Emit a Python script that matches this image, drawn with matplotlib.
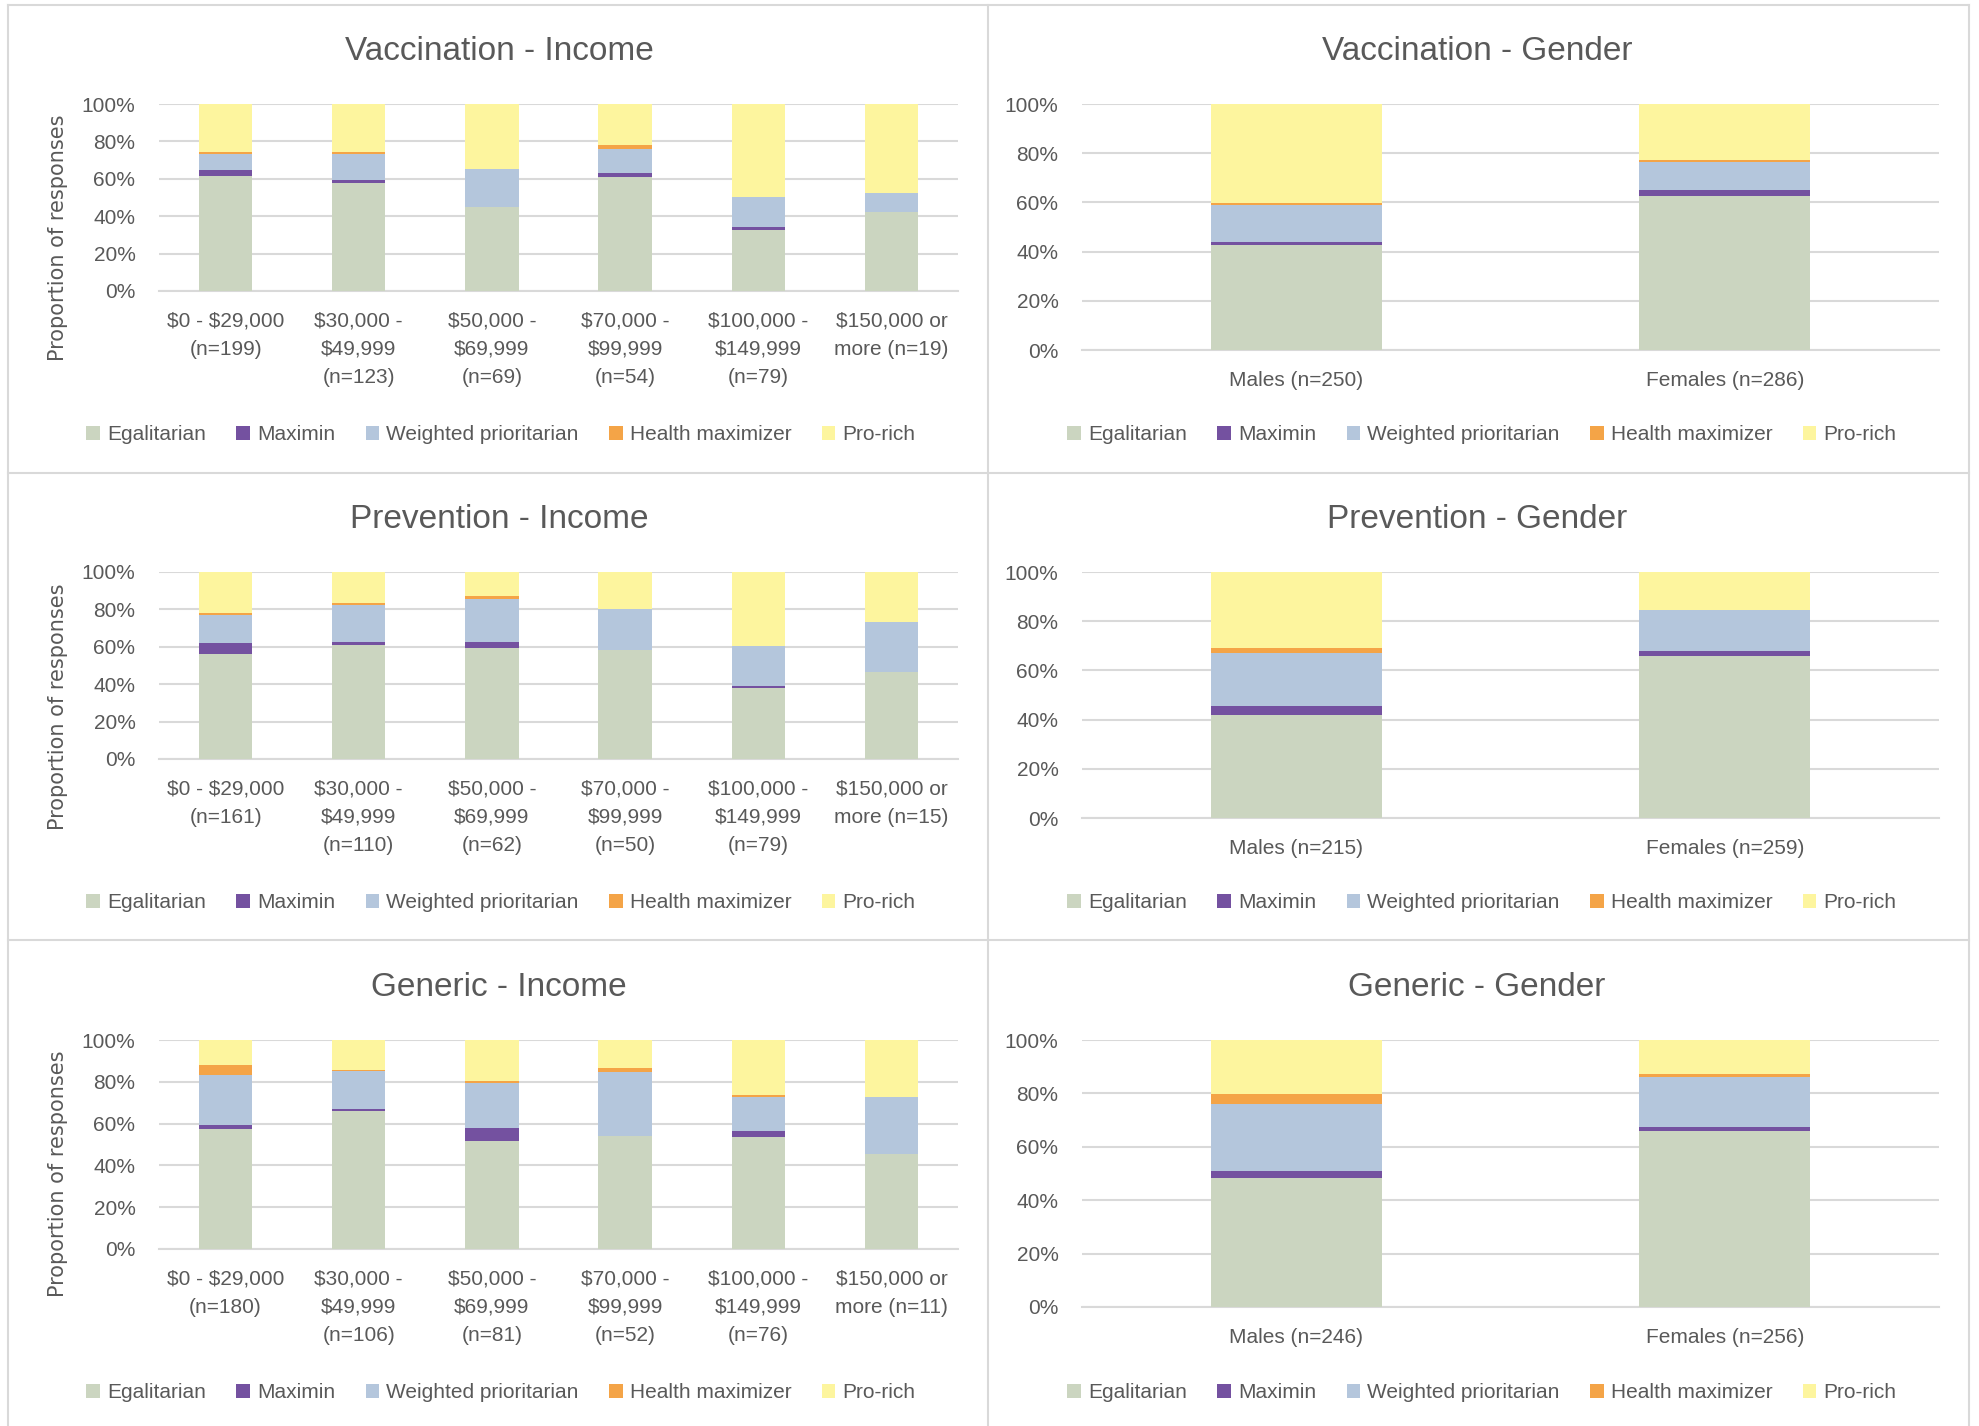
"""Stacked-bar grid: preferred allocation principle by income and gender."""
import matplotlib
matplotlib.use("Agg")
import matplotlib.pyplot as plt
import matplotlib.ticker as mtick
from matplotlib.lines import Line2D
from matplotlib.patches import Patch
import numpy as np

W, H = 1979, 1426

SERIES = ["Egalitarian", "Maximin", "Weighted prioritarian", "Health maximizer", "Pro-rich"]
COLORS = ["#CBD5C0", "#7451A0", "#B4C6DC", "#F4A447", "#FDF59E"]

INCOME_BASE = [r"\$0 - \$29,000", "\\$30,000 -\n\\$49,999", "\\$50,000 -\n\\$69,999",
               "\\$70,000 -\n\\$99,999", "\\$100,000 -\n\\$149,999", "\\$150,000 or\nmore"]

# sample sizes per panel
VAC_INCOME_N = [199, 123, 69, 54, 79, 19]
PREV_INCOME_N = [161, 110, 62, 50, 79, 15]
GEN_INCOME_N = [180, 106, 81, 52, 76, 11]
VAC_GENDER_N = [250, 286]
PREV_GENDER_N = [215, 259]
GEN_GENDER_N = [246, 256]

# percentages, rows = SERIES order
VAC_INCOME = [
    [61.5, 57.6, 45.1, 61.1, 32.8, 42.1],
    [3.0, 1.6, 0.0, 1.8, 1.2, 0.0],
    [9.0, 14.1, 20.0, 13.2, 16.4, 10.5],
    [0.9, 0.9, 0.0, 1.8, 0.0, 0.0],
    [25.6, 25.8, 34.9, 22.1, 49.6, 47.4],
]
VAC_GENDER = [
    [42.7, 62.4],
    [1.2, 2.6],
    [15.1, 11.6],
    [0.6, 0.7],
    [40.4, 22.7],
]
PREV_INCOME = [
    [56.2, 60.9, 59.6, 58.4, 38.1, 46.7],
    [5.9, 1.8, 3.0, 0.0, 1.2, 0.0],
    [15.1, 19.4, 23.0, 21.6, 21.2, 26.6],
    [1.1, 1.4, 1.8, 0.0, 0.0, 0.0],
    [21.7, 16.5, 12.6, 20.0, 39.5, 26.7],
]
PREV_GENDER = [
    [41.9, 65.9],
    [3.7, 1.9],
    [21.3, 16.7],
    [2.4, 0.0],
    [30.7, 15.5],
]
GEN_INCOME = [
    [57.6, 66.1, 51.9, 54.0, 53.8, 45.5],
    [1.6, 0.8, 5.9, 0.0, 2.6, 0.0],
    [23.9, 18.1, 21.5, 30.6, 16.1, 27.2],
    [4.8, 0.8, 1.0, 1.9, 1.1, 0.0],
    [12.1, 14.2, 19.7, 13.5, 26.4, 27.3],
]
GEN_GENDER = [
    [48.4, 66.1],
    [2.6, 1.4],
    [25.2, 18.5],
    [3.5, 1.2],
    [20.3, 12.8],
]

TEXT = "#595959"
GRID = "#D9D9D9"
FONT = "Liberation Sans"

plt.rcParams.update({
    "font.family": [FONT, "DejaVu Sans"],
    "text.color": TEXT,
    "xtick.color": TEXT,
    "ytick.color": TEXT,
})


def rect(x0, y0, x1, y1):
    """pixel box (top-left origin) -> figure fraction rect"""
    return [x0 / W, 1 - y1 / H, (x1 - x0) / W, (y1 - y0) / H]


def income_labels(ns):
    out = []
    for lab, n in zip(INCOME_BASE, ns):
        if lab.endswith("more"):
            out.append(f"{lab} (n={n})")
        else:
            out.append(f"{lab}\n(n={n})")
    return out


def gender_labels(ns):
    return [f"Males (n={ns[0]})", f"Females (n={ns[1]})"]


def panel(fig, box, title, title_xy, cats, data, legend_xy, ylabel_xy=None):
    ax = fig.add_axes(rect(*box))
    x = np.arange(len(cats))
    bottom = np.zeros(len(cats))
    for vals, col, name in zip(data, COLORS, SERIES):
        v = np.array(vals) / 100.0
        ax.bar(x, v, 0.40, bottom=bottom, color=col, label=name, zorder=3)
        bottom += v
    ax.set_xlim(-0.5, len(cats) - 0.5)
    ax.set_ylim(0, 1.0)
    ax.set_yticks(np.arange(0, 1.01, 0.2))
    ax.yaxis.set_major_formatter(mtick.PercentFormatter(1.0, decimals=0))
    ax.set_xticks(x, cats, linespacing=1.6)
    ax.tick_params(axis="both", length=0, labelsize=15)
    ax.tick_params(axis="y", pad=17)
    ax.tick_params(axis="x", pad=15)
    ax.grid(axis="y", color=GRID, linewidth=1.5, zorder=0)
    ax.set_axisbelow(True)
    for s in ax.spines.values():
        s.set_visible(False)
    ax.spines["bottom"].set_visible(True)
    ax.spines["bottom"].set_color(GRID)
    ax.spines["bottom"].set_linewidth(1.5)

    fig.text(title_xy[0] / W, 1 - title_xy[1] / H, title, ha="center", va="center",
             fontsize=24, color=TEXT)
    if ylabel_xy is not None:
        fig.text(ylabel_xy[0] / W, 1 - ylabel_xy[1] / H, "Proportion of responses",
                 rotation=90, ha="center", va="center", fontsize=15,
                 family="DejaVu Sans", color=TEXT)

    handles = [Patch(facecolor=c, edgecolor="none") for c in COLORS]
    fig.legend(handles, SERIES, loc="center",
               bbox_to_anchor=(legend_xy[0] / W, 1 - legend_xy[1] / H),
               ncol=5, frameon=False, fontsize=15, handlelength=0.65,
               handleheight=0.65, handletextpad=0.35, columnspacing=1.45,
               labelcolor=TEXT)
    return ax


fig = plt.figure(figsize=(W / 100, H / 100), dpi=100)

# panel borders
for xx in (8, 988, 1969):
    fig.add_artist(Line2D([xx / W, xx / W], [0, 1 - 5 / H], color=GRID, lw=1.5))
for yy in (5, 473, 940):
    fig.add_artist(Line2D([8 / W, 1969 / W], [1 - yy / H, 1 - yy / H], color=GRID, lw=1.5))

LX0, LX1 = 159, 958
RX0, RX1 = 1082, 1939

# row 1
panel(fig, (LX0, 104, LX1, 291), "Vaccination - Income", (499, 52),
      income_labels(VAC_INCOME_N), VAC_INCOME, (501, 435), (58, 238))
panel(fig, (RX0, 104, RX1, 350), "Vaccination - Gender", (1477, 52),
      gender_labels(VAC_GENDER_N), VAC_GENDER, (1482, 435))

# row 2
panel(fig, (LX0, 572, LX1, 759), "Prevention - Income", (499, 520),
      income_labels(PREV_INCOME_N), PREV_INCOME, (501, 903), (58, 707))
panel(fig, (RX0, 572, RX1, 818), "Prevention - Gender", (1477, 520),
      gender_labels(PREV_GENDER_N), PREV_GENDER, (1482, 903))

# row 3
panel(fig, (LX0, 1040, LX1, 1249), "Generic - Income", (499, 988),
      income_labels(GEN_INCOME_N), GEN_INCOME, (501, 1393), (58, 1174))
panel(fig, (RX0, 1040, RX1, 1307), "Generic - Gender", (1477, 988),
      gender_labels(GEN_GENDER_N), GEN_GENDER, (1482, 1393))

fig.savefig("out.png", dpi=100, facecolor="white")
